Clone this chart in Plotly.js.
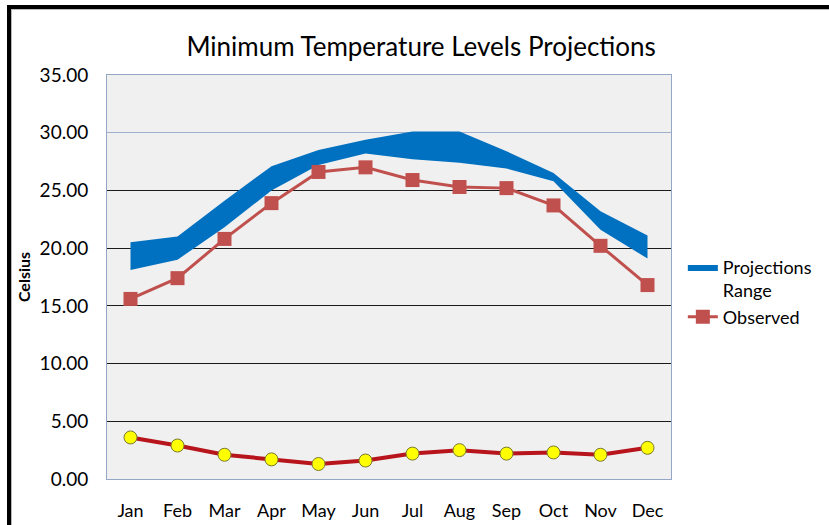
<!DOCTYPE html>
<html>
<head>
<meta charset="utf-8">
<script src="https://cdn.plot.ly/plotly-3.0.1.min.js"></script>
<style>
  html, body { margin: 0; padding: 0; background: #fff; }
  #wrap { position: relative; width: 829px; height: 525px; overflow: hidden; }
  #chart { position: absolute; left: 0; top: 0; width: 829px; height: 525px; }
  #frame { position: absolute; left: 7px; top: 5px; width: 900px; height: 600px;
           border-left: 4px solid #000; border-top: 4px solid #000; pointer-events: none; }
  #inner { position: absolute; left: 11px; top: 9px; width: 900px; height: 600px;
           border-left: 1px solid #b8b8b8; border-top: 1px solid #b8b8b8; pointer-events: none; }
</style>
</head>
<body>
<div id="wrap">
  <div id="chart"></div>
  <div id="frame"></div>
  <div id="inner"></div>
</div>
<script>
// ---- data ----
const months = ["Jan","Feb","Mar","Apr","May","Jun","Jul","Aug","Sep","Oct","Nov","Dec"];
const projLow  = [18.1, 19.0, 21.8, 25.0, 27.2, 28.2, 27.7, 27.4, 26.9, 25.8, 21.6, 19.1];
const projHigh = [20.5, 21.0, 24.1, 27.1, 28.5, 29.4, 30.1, 30.1, 28.4, 26.5, 23.2, 21.1];
const observed = [15.6, 17.4, 20.8, 23.9, 26.6, 27.0, 25.9, 25.3, 25.2, 23.7, 20.2, 16.8];
const lowSeries = [3.6, 2.9, 2.1, 1.7, 1.3, 1.6, 2.2, 2.5, 2.2, 2.3, 2.1, 2.7];
const yTicks = [0, 5, 10, 15, 20, 25, 30, 35];
const yTickText = ["0.00","5.00","10.00","15.00","20.00","25.00","30.00","35.00"];
const lightGridVals = [0, 30, 35];

const font = "Lato, 'Open Sans', sans-serif";

const traces = [
  { x: months, y: projLow, type: "scatter", mode: "lines",
    line: { width: 0, color: "#0070c0" }, showlegend: false, hoverinfo: "skip" },
  { x: months, y: projHigh, type: "scatter", mode: "lines", name: "Projections<br>Range",
    fill: "tonexty", fillcolor: "#0070c0", line: { width: 0, color: "#0070c0" } },
  { x: months, y: observed, type: "scatter", mode: "lines+markers", name: "Observed",
    line: { color: "#c0504d", width: 3 },
    marker: { symbol: "square", size: 14, color: "#c0504d" } },
  { x: months, y: lowSeries, type: "scatter", mode: "lines+markers", showlegend: false,
    line: { color: "#b8141c", width: 4 },
    marker: { symbol: "circle", size: 13, color: "#ffff00", line: { color: "#7a7a30", width: 1 } } },
  { x: [months[0]], y: [null], yaxis: "y2", type: "scatter", mode: "lines",
    showlegend: false, hoverinfo: "skip" }
];

const layout = {
  width: 829, height: 525,
  margin: { l: 107, r: 155, t: 75, b: 46 },
  paper_bgcolor: "#ffffff",
  plot_bgcolor: "#f0f0f0",
  font: { family: font, color: "#000", size: 18 },
  title: { text: "Minimum Temperature Levels Projections", x: 0.508, xanchor: "center",
           y: 0.91, yanchor: "middle", yref: "container",
           font: { family: font, size: 26, color: "#000" } },
  xaxis: { type: "category", range: [-0.5, 11.5], showgrid: false, zeroline: false,
           showline: true, mirror: true, linecolor: "#95a7c4", linewidth: 1,
           ticks: "outside", ticklen: 15, tickcolor: "rgba(0,0,0,0)",
           tickfont: { family: font, size: 18, color: "#000" } },
  yaxis: { range: [0, 35], tickvals: yTicks, ticktext: yTickText,
           showgrid: true, gridcolor: "#1a1a1a", gridwidth: 1.2, zeroline: false,
           showline: true, mirror: true, linecolor: "#95a7c4", linewidth: 1,
           ticks: "outside", ticklen: 14, tickcolor: "rgba(0,0,0,0)",
           tickfont: { family: font, size: 19, color: "#000" },
           title: { text: "<b>Celsius</b>", standoff: 5, font: { family: font, size: 16, color: "#000" } } },
  yaxis2: { overlaying: "y", side: "left", range: [0, 35], tickvals: lightGridVals,
            showticklabels: false, showgrid: true, gridcolor: "#9fb0ca", gridwidth: 1.2,
            zeroline: false, showline: false, ticks: "" },
  legend: { x: 1.021, xanchor: "left", y: 0.57, yanchor: "top", valign: "top",
            traceorder: "normal",
            bgcolor: "rgba(0,0,0,0)", font: { family: font, size: 18, color: "#000" },
            tracegroupgap: 0 },
  showlegend: true
};

Plotly.newPlot("chart", traces, layout, { displayModeBar: false, staticPlot: true });
</script>
</body>
</html>
